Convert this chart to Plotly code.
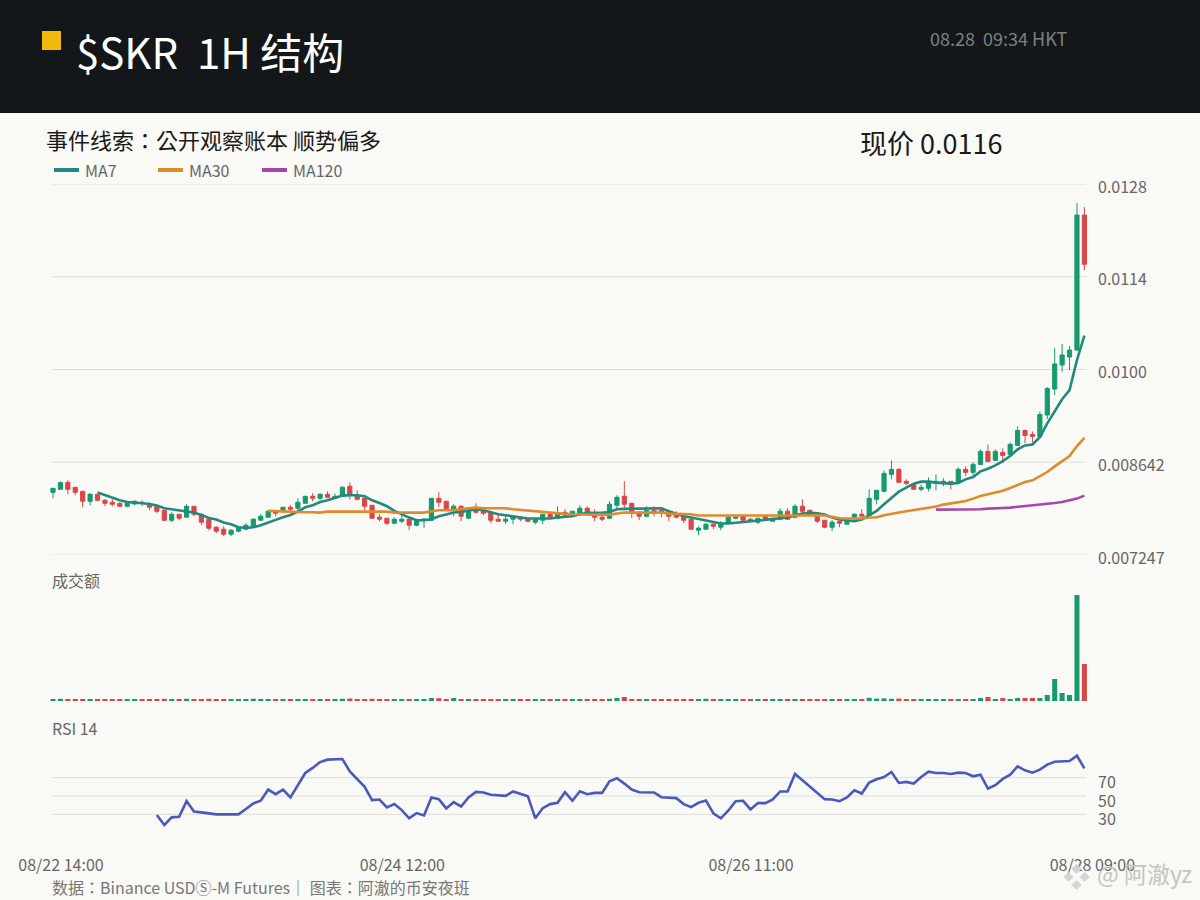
import plotly.graph_objects as go
from plotly.subplots import make_subplots

opens = [
    0.00819, 0.008235, 0.00834, 0.008265, 0.008205, 0.008055, 0.00816, 0.00807, 0.00804, 0.008025,
    0.00798, 0.008015, 0.00804, 0.00801, 0.00798, 0.00792, 0.00777, 0.00786, 0.007815, 0.00798,
    0.00786, 0.007785, 0.007665, 0.007635, 0.00756, 0.007605, 0.007635, 0.00768, 0.00777, 0.007815,
    0.007905, 0.007905, 0.007965, 0.00795, 0.008025, 0.00813, 0.0081, 0.00816, 0.0081, 0.00813,
    0.00828, 0.00813, 0.0081, 0.007995, 0.007815, 0.0078, 0.007725, 0.007755, 0.007785, 0.007695,
    0.00777, 0.00777, 0.0081, 0.008055, 0.00792, 0.00798, 0.0078, 0.007935, 0.00792, 0.00789,
    0.007785, 0.007755, 0.007785, 0.007815, 0.007785, 0.00774, 0.00777, 0.00786, 0.0078, 0.00789,
    0.007845, 0.007875, 0.00795, 0.007845, 0.007815, 0.0078, 0.007995, 0.00813, 0.008025, 0.00789,
    0.00783, 0.00792, 0.00792, 0.00789, 0.00786, 0.00783, 0.007785, 0.00762, 0.007635, 0.00771,
    0.007665, 0.007725, 0.0078, 0.00783, 0.007785, 0.00774, 0.00783, 0.007755, 0.007785, 0.007905,
    0.007815, 0.00798, 0.00792, 0.00783, 0.00777, 0.007665, 0.007755, 0.00771, 0.007815, 0.00786,
    0.007845, 0.008085, 0.008205, 0.00846, 0.008535, 0.008355, 0.00831, 0.008235, 0.00825, 0.008325,
    0.008325, 0.008355, 0.00834, 0.008535, 0.00849, 0.00861, 0.008805, 0.00867, 0.00879, 0.00876,
    0.008895, 0.00912, 0.00906, 0.00903, 0.009352, 0.009743, 0.010104, 0.010225, 0.01033, 0.01236,
]
highs = [
    0.00825, 0.008355, 0.00837, 0.008265, 0.008205, 0.008175, 0.00816, 0.008085, 0.008085, 0.00804,
    0.00804, 0.00807, 0.00807, 0.00804, 0.007995, 0.00792, 0.00789, 0.00786, 0.00801, 0.00798,
    0.00786, 0.0078, 0.00768, 0.00768, 0.007635, 0.00765, 0.007725, 0.0078, 0.00786, 0.00792,
    0.00792, 0.007965, 0.007995, 0.0081, 0.00813, 0.008175, 0.008175, 0.008205, 0.008175, 0.00828,
    0.00834, 0.00822, 0.0081, 0.007995, 0.00786, 0.0078, 0.007815, 0.007845, 0.007815, 0.007785,
    0.0078, 0.0081, 0.00819, 0.008055, 0.00801, 0.007995, 0.007935, 0.008025, 0.007935, 0.00789,
    0.007875, 0.007845, 0.00783, 0.00783, 0.0078, 0.0078, 0.00786, 0.007875, 0.00798, 0.007935,
    0.007905, 0.007995, 0.00798, 0.007935, 0.00786, 0.008055, 0.008145, 0.008355, 0.008025, 0.007905,
    0.00798, 0.00798, 0.00795, 0.007905, 0.007905, 0.007845, 0.0078, 0.00768, 0.007725, 0.00774,
    0.007755, 0.00783, 0.00783, 0.007845, 0.0078, 0.0078, 0.00783, 0.0078, 0.00795, 0.00795,
    0.00801, 0.008085, 0.00792, 0.00783, 0.00777, 0.00777, 0.007755, 0.007785, 0.007875, 0.007935,
    0.008235, 0.00822, 0.00852, 0.00867, 0.00855, 0.008385, 0.008325, 0.00831, 0.008415, 0.00846,
    0.0084, 0.008355, 0.008565, 0.00858, 0.00864, 0.008835, 0.00891, 0.008835, 0.00885, 0.00894,
    0.00918, 0.009135, 0.009105, 0.009405, 0.009773, 0.01036, 0.01042, 0.01039, 0.01254, 0.01248,
]
lows = [
    0.0081, 0.008235, 0.00816, 0.008145, 0.007965, 0.007995, 0.008055, 0.00798, 0.00798, 0.007965,
    0.007965, 0.007995, 0.00798, 0.00792, 0.007875, 0.007755, 0.00774, 0.00777, 0.007815, 0.00783,
    0.007695, 0.00762, 0.007575, 0.00753, 0.00753, 0.00759, 0.00762, 0.007665, 0.00777, 0.0078,
    0.00783, 0.007875, 0.007905, 0.007905, 0.008025, 0.008055, 0.00807, 0.0081, 0.0081, 0.00813,
    0.008085, 0.00807, 0.00792, 0.0078, 0.007755, 0.007695, 0.00771, 0.007725, 0.00762, 0.00768,
    0.00765, 0.007755, 0.007965, 0.00792, 0.00783, 0.007755, 0.0078, 0.007875, 0.007845, 0.007725,
    0.007755, 0.00771, 0.00771, 0.007755, 0.00774, 0.00771, 0.00771, 0.0078, 0.007785, 0.00783,
    0.00783, 0.00786, 0.007845, 0.007755, 0.007755, 0.007785, 0.00792, 0.00795, 0.0078, 0.00777,
    0.007815, 0.00783, 0.007815, 0.007755, 0.0078, 0.007725, 0.007635, 0.007545, 0.007635, 0.007635,
    0.00762, 0.007725, 0.007785, 0.00777, 0.00774, 0.00771, 0.00777, 0.007755, 0.00777, 0.00777,
    0.0078, 0.00786, 0.007845, 0.007725, 0.00765, 0.007605, 0.007665, 0.00771, 0.00774, 0.00783,
    0.007845, 0.00801, 0.00819, 0.008385, 0.00834, 0.008295, 0.008235, 0.008205, 0.008205, 0.00822,
    0.00828, 0.008235, 0.00834, 0.00843, 0.008445, 0.00861, 0.00864, 0.00867, 0.008625, 0.00876,
    0.008895, 0.008925, 0.00894, 0.00903, 0.009292, 0.009653, 0.0100, 0.01003, 0.010315, 0.01153,
]
closes = [
    0.00825, 0.008335, 0.008235, 0.00819, 0.008055, 0.00816, 0.00807, 0.008025, 0.00801, 0.00798,
    0.008025, 0.008055, 0.008025, 0.007965, 0.007905, 0.00777, 0.00786, 0.0078, 0.00798, 0.00786,
    0.00774, 0.00765, 0.007605, 0.00756, 0.00762, 0.00765, 0.007695, 0.007785, 0.00783, 0.007905,
    0.007875, 0.007965, 0.007935, 0.00804, 0.00813, 0.0081, 0.00816, 0.008115, 0.00813, 0.008265,
    0.00816, 0.008085, 0.00798, 0.0078, 0.007785, 0.007725, 0.007785, 0.007785, 0.007695, 0.00777,
    0.007785, 0.0081, 0.00804, 0.00792, 0.00798, 0.00783, 0.007935, 0.00789, 0.007875, 0.00777,
    0.007755, 0.007785, 0.00783, 0.007785, 0.007755, 0.007785, 0.00786, 0.007815, 0.00786, 0.007845,
    0.007905, 0.00795, 0.00789, 0.007815, 0.007785, 0.00801, 0.008115, 0.00801, 0.00789, 0.00783,
    0.00792, 0.00789, 0.00789, 0.00783, 0.007815, 0.00777, 0.007635, 0.00765, 0.00771, 0.00768,
    0.00771, 0.007815, 0.007815, 0.00777, 0.007755, 0.0078, 0.007785, 0.0078, 0.007905, 0.007785,
    0.00798, 0.007905, 0.007845, 0.007755, 0.007665, 0.00774, 0.007725, 0.007755, 0.00786, 0.00783,
    0.0081, 0.00822, 0.008475, 0.008535, 0.00834, 0.008325, 0.008235, 0.008265, 0.008355, 0.008355,
    0.008355, 0.00831, 0.008535, 0.00849, 0.00861, 0.008805, 0.008655, 0.008805, 0.008745, 0.00891,
    0.00912, 0.009045, 0.00903, 0.00936, 0.00975, 0.01012, 0.010255, 0.01033, 0.01236, 0.01162,
]

ma7 = [
    0.008186, 0.008145, 0.008105, 0.00807, 0.008045, 0.00804, 0.008025, 0.008015, 0.00799, 0.00795,
    0.007935, 0.007915, 0.0079, 0.007885, 0.00785, 0.007805, 0.00778, 0.007735, 0.00771, 0.007665,
    0.007655, 0.007665, 0.007695, 0.00774, 0.007775, 0.007815, 0.00785, 0.0079, 0.007965, 0.007995,
    0.008045, 0.00807, 0.008105, 0.00814, 0.008145, 0.008145, 0.00813, 0.00807, 0.00803, 0.00798,
    0.00791, 0.007855, 0.00781, 0.00777, 0.00777, 0.007785, 0.00783, 0.007855, 0.007885, 0.007895,
    0.00792, 0.007935, 0.00792, 0.007885, 0.00786, 0.007845, 0.00783, 0.00782, 0.007795, 0.007795,
    0.007795, 0.007795, 0.00781, 0.00782, 0.00783, 0.00786, 0.00788, 0.00788, 0.00788, 0.007895,
    0.007935, 0.00794, 0.00794, 0.00794, 0.00794, 0.00795, 0.00795, 0.007905, 0.00787, 0.00783,
    0.00781, 0.00779, 0.007765, 0.00774, 0.00772, 0.00772, 0.00773, 0.00775, 0.00776, 0.007765,
    0.00778, 0.00779, 0.0078, 0.00781, 0.00784, 0.00787, 0.00788, 0.007875, 0.007855, 0.00781,
    0.00778, 0.007765, 0.007755, 0.00778, 0.007845, 0.00791, 0.00801, 0.00811, 0.0082, 0.00826,
    0.00832, 0.00835, 0.00835, 0.008335, 0.00833, 0.00832, 0.00833, 0.008385, 0.00842, 0.008505,
    0.008545, 0.008595, 0.00866, 0.008735, 0.008835, 0.008895, 0.00891, 0.00902, 0.009228, 0.009417,
    0.009589, 0.009728, 0.01018, 0.010545,
]
ma30 = [
    0.00791, 0.007905, 0.007895, 0.00789, 0.00789, 0.00789, 0.00789, 0.007885, 0.0079, 0.0079,
    0.0079, 0.0079, 0.0079, 0.0079, 0.0079, 0.0079, 0.0079, 0.007885, 0.007885, 0.007885,
    0.007885, 0.007885, 0.007905, 0.00792, 0.00792, 0.00792, 0.00794, 0.007945, 0.00796, 0.00795,
    0.00795, 0.00795, 0.00795, 0.007935, 0.007925, 0.00791, 0.007895, 0.00789, 0.00788, 0.00787,
    0.007865, 0.00786, 0.007855, 0.007855, 0.007855, 0.007855, 0.007855, 0.00787, 0.007885, 0.007885,
    0.007885, 0.007885, 0.007885, 0.007885, 0.00787, 0.007865, 0.00786, 0.00786, 0.00784, 0.00784,
    0.00784, 0.00784, 0.00784, 0.00784, 0.00784, 0.00784, 0.00784, 0.00784, 0.00784, 0.00784,
    0.00784, 0.00784, 0.00784, 0.00784, 0.00784, 0.00784, 0.00782, 0.0078, 0.007795, 0.007795,
    0.007795, 0.00781, 0.007815, 0.007845, 0.00786, 0.007885, 0.007905, 0.00792, 0.00794, 0.00796,
    0.007975, 0.008005, 0.00802, 0.00804, 0.00806, 0.008095, 0.008135, 0.00816, 0.008185, 0.008215,
    0.008255, 0.0083, 0.008345, 0.00837, 0.00843, 0.008495, 0.00858, 0.00866, 0.008735, 0.008885,
    0.00901,
]
ma120 = [
    0.00793, 0.00793, 0.00793, 0.00793, 0.00793, 0.007935, 0.007935, 0.007945, 0.007945, 0.007955,
    0.00796, 0.00797, 0.00798, 0.00799, 0.008005, 0.008015, 0.00803, 0.008045, 0.00807, 0.008095,
    0.00814,
]
rsi = [
    29.3, 18.5, 26.8, 27.5, 44.4, 33.2, 32.2, 30.7, 30.0, 30.0,
    30.0, 30.0, 35.8, 41.9, 44.8, 57.0, 52.0, 57.0, 48.4, 61.7,
    75.0, 80.5, 86.9, 89.5, 89.5, 90.2, 76.8, 67.8, 59.9, 45.5,
    46.2, 37.6, 41.2, 34.7, 25.7, 31.4, 28.9, 48.4, 46.6, 36.5,
    43.3, 38.6, 48.4, 54.5, 53.8, 51.3, 50.5, 50.2, 54.9, 52.0,
    49.8, 25.7, 36.8, 41.2, 42.6, 54.1, 44.8, 55.2, 52.0, 53.4,
    53.4, 66.0, 69.3, 63.5, 57.0, 54.1, 53.8, 53.8, 48.7, 48.4,
    47.7, 41.2, 37.9, 42.6, 45.1, 31.1, 25.7, 34.0, 44.4, 44.8,
    35.4, 42.3, 42.3, 46.2, 54.9, 54.9, 74.0, 67.1, 60.6, 53.4,
    46.6, 46.2, 44.4, 48.4, 56.3, 52.7, 64.6, 68.2, 70.7, 76.1,
    64.2, 65.3, 63.5, 70.7, 76.5, 75.0, 75.0, 74.0, 75.4, 75.0,
    71.4, 73.2, 58.1, 61.7, 68.6, 73.2, 82.3, 77.9, 75.4, 78.6,
    84.1, 87.3, 87.7, 88.0, 93.8, 80.1,
]
volumes = [
    20, 22, 20, 18, 20, 20, 20, 18, 20, 18,
    20, 20, 18, 20, 20, 22, 20, 18, 22, 20,
    20, 22, 18, 20, 18, 20, 20, 22, 20, 20,
    18, 20, 18, 20, 20, 18, 20, 18, 18, 22,
    25, 20, 20, 22, 18, 20, 20, 18, 20, 20,
    18, 30, 28, 20, 30, 20, 20, 20, 18, 20,
    20, 18, 20, 20, 18, 20, 20, 18, 18, 18,
    20, 20, 20, 18, 20, 22, 30, 40, 20, 18,
    20, 20, 18, 20, 20, 20, 20, 20, 22, 18,
    20, 20, 18, 20, 18, 20, 20, 20, 18, 18,
    20, 20, 18, 20, 18, 20, 20, 20, 20, 20,
    32, 24, 26, 22, 24, 20, 18, 20, 20, 20,
    20, 20, 20, 20, 20, 30, 40, 20, 30, 20,
    30, 30, 30, 30, 60, 220, 80, 60, 1060, 370,
]

x_tick_idx = [0, 46, 93, 139]
x_tick_labels = ["08/22 14:00", "08/24 12:00", "08/26 11:00", "08/28 09:00"]
price_ticks = [0.007247, 0.008642, 0.010037, 0.011432, 0.012827]
price_labels = ["0.007247", "0.008642", "0.0100", "0.0114", "0.0128"]
rsi_ticks = [30, 50, 70]
ma_names = ["MA7", "MA30", "MA120"]
ma_colors = ["#22897e", "#e08a2c", "#a845a8"]

GREEN = "#169b6e"
RED = "#db4548"
BG = "#f9f9f5"
GRID = "#dfdfda"
FONT = "Noto Sans CJK TC"

n = len(closes)
idx = list(range(n))


def pad(values):
    return [None] * (n - len(values)) + values


def px(x):
    return x / 1200


def py(y):
    return 1 - y / 900


fig = make_subplots(rows=3, cols=1, shared_xaxes=True)

fig.add_trace(go.Candlestick(
    x=idx, open=opens, high=highs, low=lows, close=closes,
    increasing=dict(line=dict(color=GREEN, width=1), fillcolor=GREEN),
    decreasing=dict(line=dict(color=RED, width=1), fillcolor=RED),
    whiskerwidth=0, showlegend=False, hoverinfo="skip",
), row=1, col=1)

for name, values, color in zip(ma_names, [ma7, ma30, ma120], ma_colors):
    fig.add_trace(go.Scatter(x=idx, y=pad(values), mode="lines", name=name, showlegend=False,
                             line=dict(color=color, width=2.6)), row=1, col=1)

bar_colors = [GREEN if c >= o else RED for o, c in zip(opens, closes)]
fig.add_trace(go.Bar(x=idx, y=volumes, marker=dict(color=bar_colors, line=dict(width=0)),
                     width=0.68, showlegend=False), row=2, col=1)

fig.add_trace(go.Scatter(x=idx, y=pad(rsi), mode="lines", showlegend=False,
                         line=dict(color="#4b59bb", width=2.6)), row=3, col=1)

# gridlines stop a little short of the outer candles, so they are shapes
grid_left, grid_right = px(52), px(1086)
for yref, ticks in [("y", price_ticks), ("y2", [0]), ("y3", rsi_ticks)]:
    for tick in ticks:
        fig.add_shape(type="line", xref="paper", yref=yref, x0=grid_left, x1=grid_right,
                      y0=tick, y1=tick, line=dict(color=GRID, width=1), layer="below")

fig.add_shape(type="rect", xref="paper", yref="paper", x0=0, x1=1, y0=py(113), y1=1,
              fillcolor="#131719", line=dict(width=0), layer="below")
fig.add_shape(type="rect", xref="paper", yref="paper", x0=px(42), x1=px(61), y0=py(50), y1=py(31),
              fillcolor="#f0b90b", line=dict(width=0), layer="below")

texts = [
    ("$SKR\u00a0\u00a01H 结构", 74, 51, 42, "#ffffff"),
    ("08.28\u00a0\u00a009:34 HKT", 928, 38, 18, "#7d8083"),
    ("事件线索：公开观察账本 顺势偏多", 44, 139, 22, "#1a1a1a"),
    ("现价 0.0116", 858, 142, 27, "#1a1a1a"),
    ("成交额", 50, 580, 16, "#666666"),
    ("RSI 14", 50, 728, 16, "#666666"),
    ("数据：Binance USDⓈ-M Futures｜ 图表：阿澈的币安夜班", 50, 887, 16, "#777777"),
    ("❖", 1061, 875, 27, "#d4d4d0"),
    ("@ 阿澈yz", 1095, 873, 23, "#c4c4c0"),
]
for text, x, y, size, color in texts:
    fig.add_annotation(text=text, xref="paper", yref="paper", x=px(x), y=py(y),
                       xanchor="left", yanchor="middle", showarrow=False,
                       font=dict(family=FONT, size=size, color=color))

# legend keys sit at fixed positions, the native legend cannot make them this short
for i, (name, color) in enumerate(zip(ma_names, ma_colors)):
    left = 54 + 104 * i
    fig.add_shape(type="line", xref="paper", yref="paper", x0=px(left), x1=px(left + 25),
                  y0=py(170), y1=py(170), line=dict(color=color, width=4))
    fig.add_annotation(text=name, xref="paper", yref="paper", x=px(left + 29), y=py(170),
                       xanchor="left", yanchor="middle", showarrow=False,
                       font=dict(family=FONT, size=16, color="#666666"))

fig.update_layout(
    width=1200, height=900,
    margin=dict(l=0, r=0, t=0, b=0, autoexpand=False),
    paper_bgcolor=BG, plot_bgcolor=BG,
    font=dict(family=FONT, size=16, color="#666666"),
    boxgap=0.3,
    boxgroupgap=0.2,
    showlegend=False,
)

x_domain = [px(49), px(1090)]
x_range = [(49 - 53) / 7.42, (1090 - 53) / 7.42]
for row in (1, 2, 3):
    fig.update_xaxes(domain=x_domain, range=x_range, showgrid=False, zeroline=False, automargin=False,
                     rangeslider_visible=False, showticklabels=False, ticks="", row=row, col=1)
fig.update_xaxes(showticklabels=True, tickmode="array", tickvals=x_tick_idx, ticktext=x_tick_labels,
                 ticklabelshift=8, ticklabelstandoff=12, row=3, col=1)

fig.update_yaxes(domain=[py(555), py(184)], range=[price_ticks[0], price_ticks[-1]], side="right",
                 tickmode="array", tickvals=price_ticks, ticktext=price_labels, automargin=False,
                 showgrid=False, zeroline=False, ticks="", ticklabelstandoff=7, ticklabelshift=3, row=1, col=1)
fig.update_yaxes(domain=[py(701), py(595)], range=[0, 1060], visible=False, automargin=False, row=2, col=1)
fig.update_yaxes(domain=[py(842), py(750)], range=[0, 100], side="right", automargin=False,
                 tickmode="array", tickvals=rsi_ticks, ticktext=[str(t) for t in rsi_ticks],
                 showgrid=False, zeroline=False, ticks="", ticklabelstandoff=7, ticklabelshift=5, row=3, col=1)

fig.write_html("out.html", config=dict(displayModeBar=False),
               post_script="document.body.style.margin='0';")
